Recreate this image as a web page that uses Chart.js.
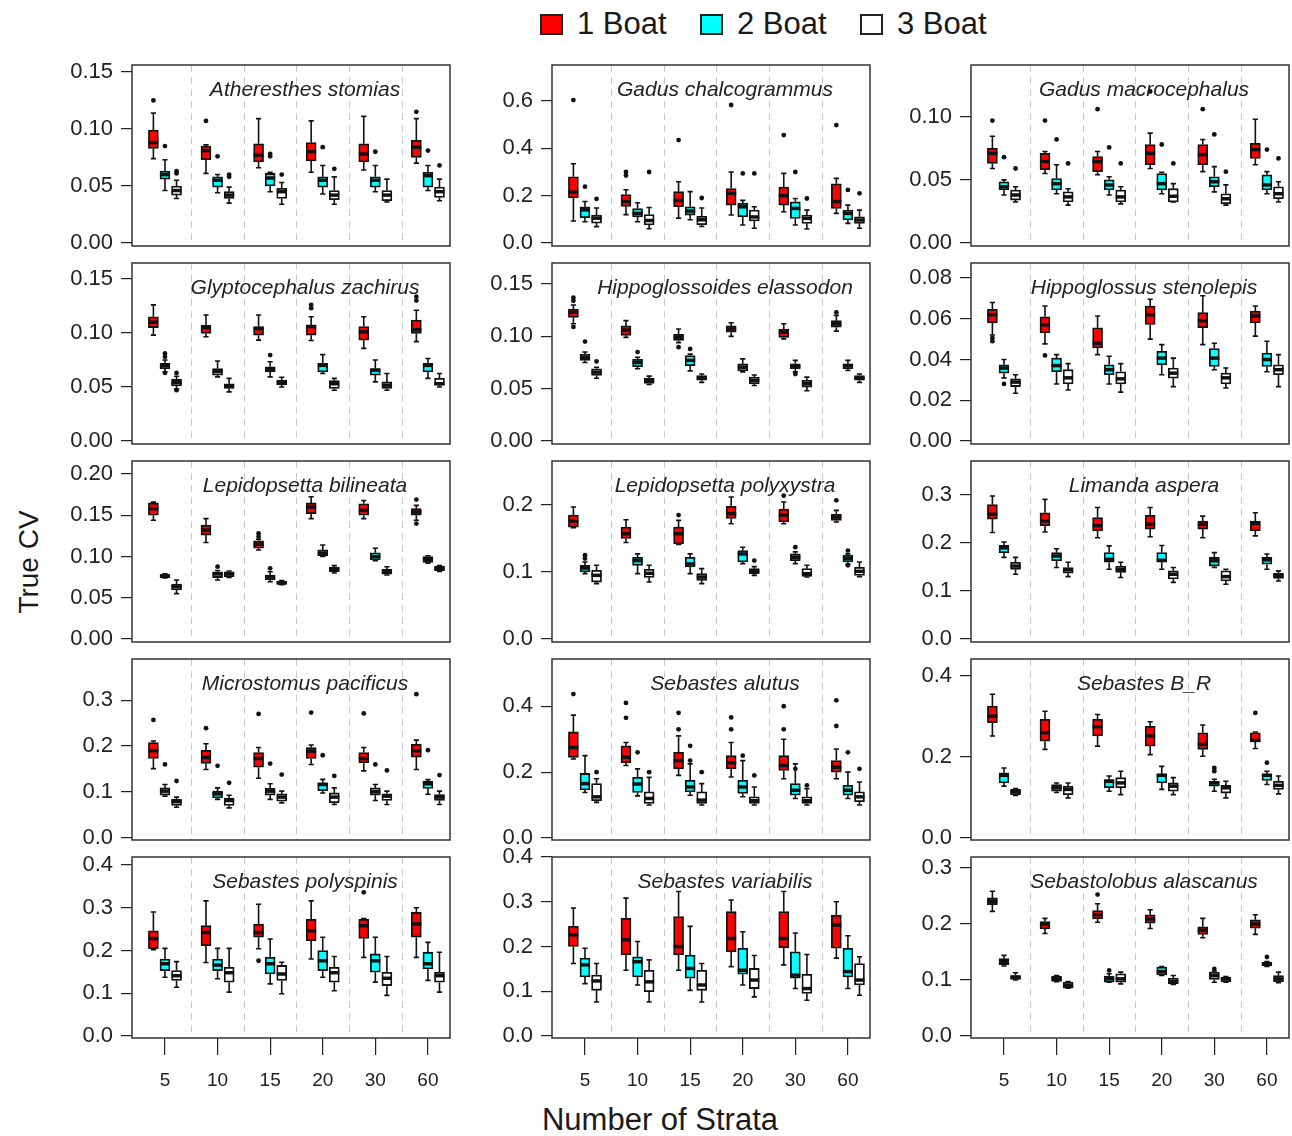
<!DOCTYPE html>
<html>
<head>
<meta charset="utf-8">
<script src="https://cdn.jsdelivr.net/npm/chart.js@4.4.1/dist/chart.umd.min.js"></script>
<style>
  body { margin:0; background:#fff; width:1292px; height:1136px; position:relative; overflow:hidden;
         font-family:"Liberation Sans", Arial, sans-serif; color:#1a1a1a; }
  canvas { position:absolute; }
  .sw { position:absolute; top:14px; width:19px; height:17px; border:2px solid #222; }
  .lk { position:absolute; top:6px; font-size:31px; line-height:36px; }
  #ytitle { position:absolute; left:29px; top:562px; font-size:28px; white-space:nowrap;
            transform:translate(-50%,-50%) rotate(-90deg); }
  #xtitle { position:absolute; left:660px; top:1120px; font-size:31px; white-space:nowrap;
            transform:translate(-50%,-50%); }
</style>
</head>
<body>
<div id="legend"></div>
<div id="ytitle">True CV</div>
<div id="xtitle">Number of Strata</div>
<script>
const strataLabels = ["5", "10", "15", "20", "30", "60"];
const boatLabels = ["1 Boat", "2 Boat", "3 Boat"];
const boatColors = ["#ff0000", "#00ffff", "#ffffff"];

const speciesNames = [
  "Atheresthes stomias", "Gadus chalcogrammus", "Gadus macrocephalus",
  "Glyptocephalus zachirus", "Hippoglossoides elassodon", "Hippoglossus stenolepis",
  "Lepidopsetta bilineata", "Lepidopsetta polyxystra", "Limanda aspera",
  "Microstomus pacificus", "Sebastes alutus", "Sebastes B_R",
  "Sebastes polyspinis", "Sebastes variabilis", "Sebastolobus alascanus"
];

// y axis limits and ticks per panel
const yMins = [-0.0026, -0.0127, -0.0024, -0.0028, -0.0029, -0.0015, -0.0036, -0.0045, -0.0063, -0.0044, -0.0061, -0.005, -0.0047, -0.0045, -0.0036];
const yMaxs = [0.156, 0.752, 0.141, 0.1648, 0.1701, 0.0874, 0.2158, 0.2657, 0.371, 0.3895, 0.5435, 0.4422, 0.4187, 0.4, 0.3196];
const yTickSets = [
  [0, 0.05, 0.10, 0.15], [0, 0.2, 0.4, 0.6], [0, 0.05, 0.10],
  [0, 0.05, 0.10, 0.15], [0, 0.05, 0.10, 0.15], [0, 0.02, 0.04, 0.06, 0.08],
  [0, 0.05, 0.10, 0.15, 0.20], [0, 0.1, 0.2], [0, 0.1, 0.2, 0.3],
  [0, 0.1, 0.2, 0.3], [0, 0.2, 0.4], [0, 0.2, 0.4],
  [0, 0.1, 0.2, 0.3, 0.4], [0, 0.1, 0.2, 0.3, 0.4], [0, 0.1, 0.2, 0.3]
];
const yDecimals = [2, 1, 2, 2, 2, 2, 2, 1, 1, 1, 1, 1, 1, 1, 1];

// each boat: six boxes (strata 5..60) as [lower whisker, q1, median, q3, upper whisker]
const atheresthesStomias = [
  [[0.074,0.083,0.088,0.099,0.114],[0.061,0.073,0.081,0.085,0.086],[0.066,0.071,0.077,0.087,0.109],[0.062,0.072,0.080,0.088,0.107],[0.064,0.071,0.078,0.087,0.111],[0.070,0.075,0.084,0.090,0.109]],
  [[0.046,0.056,0.060,0.063,0.073],[0.044,0.049,0.055,0.058,0.060],[0.045,0.050,0.057,0.061,0.062],[0.043,0.049,0.055,0.058,0.068],[0.045,0.049,0.055,0.058,0.068],[0.046,0.049,0.059,0.062,0.068]],
  [[0.039,0.042,0.046,0.050,0.055],[0.035,0.039,0.042,0.045,0.049],[0.034,0.039,0.045,0.048,0.053],[0.034,0.038,0.042,0.046,0.058],[0.036,0.037,0.042,0.046,0.056],[0.037,0.040,0.045,0.049,0.056]]
];
const gadusChalcogrammus = [
  [[0.093,0.19,0.215,0.28,0.335],[0.12,0.155,0.175,0.205,0.225],[0.105,0.153,0.18,0.217,0.259],[0.118,0.16,0.21,0.23,0.30],[0.132,0.16,0.20,0.236,0.294],[0.125,0.146,0.175,0.25,0.273]],
  [[0.09,0.107,0.14,0.153,0.175],[0.09,0.11,0.125,0.145,0.17],[0.098,0.118,0.135,0.153,0.217],[0.076,0.111,0.153,0.168,0.18],[0.076,0.104,0.146,0.174,0.188],[0.083,0.097,0.125,0.139,0.16]],
  [[0.069,0.084,0.105,0.118,0.148],[0.06,0.076,0.095,0.12,0.15],[0.07,0.077,0.098,0.113,0.148],[0.062,0.093,0.11,0.139,0.153],[0.059,0.083,0.104,0.118,0.139],[0.062,0.083,0.097,0.111,0.139]]
];
const gadusMacrocephalus = [
  [[0.059,0.063,0.071,0.075,0.0845],[0.055,0.058,0.0645,0.071,0.0725],[0.054,0.0565,0.0645,0.0685,0.0725],[0.059,0.062,0.071,0.078,0.087],[0.0565,0.062,0.070,0.078,0.082],[0.062,0.067,0.074,0.079,0.098]],
  [[0.038,0.042,0.0445,0.0485,0.050],[0.039,0.042,0.047,0.051,0.062],[0.038,0.042,0.046,0.050,0.0525],[0.039,0.042,0.047,0.055,0.056],[0.0405,0.0445,0.0485,0.0525,0.0605],[0.039,0.042,0.046,0.054,0.0565]],
  [[0.0325,0.034,0.038,0.042,0.0445],[0.030,0.0325,0.0365,0.0405,0.043],[0.031,0.0325,0.0365,0.042,0.0445],[0.0325,0.0325,0.037,0.043,0.047],[0.030,0.031,0.035,0.039,0.046],[0.0325,0.035,0.039,0.0445,0.0485]]
];
const glyptocephalusZachirus = [
  [[0.098,0.105,0.110,0.115,0.126],[0.0965,0.0996,0.105,0.107,0.1166],[0.0934,0.098,0.104,0.106,0.1166],[0.093,0.098,0.106,0.107,0.115],[0.0857,0.0934,0.101,0.106,0.115],[0.092,0.0996,0.103,0.112,0.121]],
  [[0.064,0.067,0.070,0.072,0.075],[0.0594,0.061,0.0646,0.067,0.074],[0.0594,0.064,0.0665,0.0687,0.0733],[0.0625,0.064,0.070,0.0718,0.080],[0.0547,0.061,0.0655,0.067,0.075],[0.058,0.064,0.070,0.0718,0.0764]],
  [[0.048,0.051,0.054,0.057,0.060],[0.0455,0.0486,0.051,0.053,0.058],[0.050,0.052,0.054,0.0563,0.059],[0.047,0.0486,0.053,0.056,0.058],[0.047,0.0486,0.0517,0.0547,0.0625],[0.050,0.0517,0.053,0.058,0.0625]]
];
const hippoglossoidesElassodon = [
  [[0.112,0.118,0.123,0.126,0.130],[0.099,0.101,0.106,0.110,0.115],[0.094,0.096,0.099,0.102,0.107],[0.100,0.104,0.107,0.110,0.113],[0.0976,0.099,0.104,0.107,0.112],[0.105,0.1087,0.112,0.115,0.12]],
  [[0.075,0.077,0.080,0.083,0.085],[0.069,0.071,0.075,0.078,0.080],[0.067,0.072,0.077,0.0817,0.083],[0.066,0.067,0.0705,0.0737,0.0785],[0.066,0.069,0.0715,0.0737,0.077],[0.0674,0.069,0.072,0.0737,0.077]],
  [[0.060,0.0626,0.0658,0.069,0.0705],[0.054,0.055,0.058,0.060,0.062],[0.056,0.058,0.060,0.0626,0.064],[0.053,0.0547,0.058,0.061,0.063],[0.048,0.0515,0.0547,0.058,0.061],[0.056,0.058,0.060,0.0626,0.064]]
];
const hippoglossusStenolepis = [
  [[0.052,0.058,0.062,0.0647,0.068],[0.0477,0.053,0.057,0.061,0.0663],[0.0424,0.0457,0.048,0.0556,0.0614],[0.050,0.0572,0.062,0.0663,0.0696],[0.0473,0.0556,0.059,0.063,0.0713],[0.0515,0.058,0.0614,0.0638,0.0663]],
  [[0.031,0.0333,0.0358,0.0374,0.040],[0.028,0.034,0.037,0.0407,0.0424],[0.028,0.0325,0.035,0.0374,0.0416],[0.0325,0.0374,0.0407,0.044,0.0473],[0.035,0.0366,0.0407,0.0454,0.048],[0.034,0.0366,0.040,0.0432,0.049]],
  [[0.0234,0.0267,0.0289,0.0305,0.0325],[0.025,0.028,0.031,0.035,0.038],[0.024,0.028,0.0305,0.034,0.038],[0.0267,0.0308,0.0333,0.0358,0.0407],[0.026,0.028,0.031,0.0333,0.0358],[0.0267,0.0325,0.035,0.0374,0.0424]]
];
const lepidopsettaBilineata = [
  [[0.144,0.150,0.158,0.165,0.166],[0.117,0.126,0.132,0.138,0.146],[0.108,0.110,0.115,0.119,0.121],[0.146,0.152,0.160,0.165,0.1725],[0.146,0.150,0.156,0.164,0.168],[0.144,0.150,0.154,0.158,0.162]],
  [[0.074,0.0745,0.0765,0.078,0.079],[0.0715,0.0745,0.079,0.0816,0.083],[0.0695,0.0715,0.075,0.0776,0.0816],[0.100,0.101,0.104,0.108,0.114],[0.095,0.0958,0.100,0.1046,0.11],[0.092,0.093,0.0966,0.100,0.101]],
  [[0.055,0.0594,0.0634,0.0667,0.0715],[0.0745,0.0755,0.079,0.0816,0.0825],[0.066,0.0665,0.068,0.070,0.071],[0.080,0.0815,0.084,0.087,0.089],[0.0776,0.0785,0.0816,0.0844,0.0877],[0.082,0.0828,0.0857,0.0885,0.089]]
];
const lepidopsettaPolyxystra = [
  [[0.166,0.167,0.176,0.185,0.197],[0.144,0.150,0.157,0.167,0.178],[0.141,0.142,0.157,0.167,0.177],[0.172,0.18,0.187,0.198,0.212],[0.172,0.1746,0.185,0.194,0.2045],[0.1746,0.177,0.182,0.186,0.192]],
  [[0.0975,0.10,0.106,0.11,0.115],[0.0975,0.11,0.117,0.122,0.127],[0.0975,0.1075,0.112,0.122,0.127],[0.1125,0.115,0.127,0.132,0.137],[0.1125,0.117,0.122,0.127,0.13],[0.112,0.115,0.12,0.125,0.127]],
  [[0.0826,0.085,0.095,0.1025,0.11],[0.085,0.092,0.098,0.104,0.11],[0.0826,0.0876,0.0925,0.0975,0.105],[0.095,0.0975,0.101,0.105,0.108],[0.0925,0.0935,0.0975,0.105,0.11],[0.093,0.095,0.101,0.107,0.115]]
];
const limandaAspera = [
  [[0.222,0.25,0.26,0.28,0.298],[0.223,0.236,0.246,0.263,0.291],[0.211,0.225,0.236,0.253,0.274],[0.213,0.229,0.239,0.258,0.274],[0.211,0.229,0.239,0.246,0.256],[0.215,0.225,0.241,0.246,0.263]],
  [[0.17,0.18,0.19,0.195,0.202],[0.149,0.163,0.173,0.18,0.188],[0.1455,0.16,0.166,0.18,0.194],[0.1455,0.16,0.164,0.18,0.195],[0.149,0.152,0.163,0.17,0.18],[0.1455,0.156,0.165,0.17,0.177]],
  [[0.135,0.145,0.152,0.16,0.17],[0.13,0.137,0.144,0.149,0.16],[0.128,0.139,0.1455,0.152,0.16],[0.118,0.125,0.135,0.142,0.149],[0.114,0.121,0.13,0.142,0.1455],[0.121,0.126,0.132,0.137,0.142]]
];
const microstomusPacificus = [
  [[0.151,0.173,0.19,0.2075,0.211],[0.149,0.162,0.175,0.191,0.205],[0.13,0.154,0.173,0.186,0.197],[0.16,0.173,0.189,0.197,0.2025],[0.146,0.164,0.173,0.186,0.197],[0.149,0.176,0.19,0.204,0.213]],
  [[0.091,0.093,0.102,0.109,0.1165],[0.084,0.087,0.096,0.102,0.109],[0.084,0.093,0.102,0.108,0.118],[0.098,0.103,0.1165,0.12,0.1275],[0.0815,0.093,0.1005,0.109,0.1165],[0.095,0.108,0.118,0.124,0.127]],
  [[0.067,0.071,0.079,0.084,0.089],[0.0655,0.071,0.0815,0.087,0.093],[0.0765,0.08,0.089,0.096,0.102],[0.073,0.0765,0.089,0.098,0.109],[0.073,0.0815,0.091,0.096,0.102],[0.073,0.0815,0.089,0.0947,0.102]]
];
const sebastesAlutus = [
  [[0.24,0.245,0.275,0.322,0.373],[0.22,0.228,0.245,0.28,0.29],[0.19,0.21,0.235,0.26,0.31],[0.185,0.21,0.228,0.25,0.29],[0.18,0.205,0.22,0.25,0.30],[0.18,0.2,0.215,0.235,0.27]],
  [[0.138,0.146,0.165,0.196,0.25],[0.128,0.138,0.164,0.184,0.21],[0.13,0.14,0.155,0.175,0.225],[0.125,0.135,0.155,0.175,0.235],[0.12,0.13,0.145,0.165,0.225],[0.12,0.13,0.145,0.16,0.2]],
  [[0.108,0.113,0.125,0.165,0.18],[0.1,0.105,0.12,0.14,0.184],[0.1,0.105,0.115,0.14,0.165],[0.1,0.105,0.113,0.125,0.155],[0.1,0.105,0.113,0.125,0.15],[0.1,0.11,0.125,0.14,0.17]]
];
const sebastesBR = [
  [[0.252,0.285,0.301,0.326,0.355],[0.219,0.239,0.26,0.293,0.313],[0.227,0.252,0.275,0.293,0.305],[0.206,0.227,0.252,0.276,0.287],[0.202,0.219,0.231,0.26,0.279],[0.221,0.238,0.241,0.26,0.262]],
  [[0.128,0.136,0.155,0.161,0.173],[0.1125,0.1155,0.124,0.132,0.136],[0.1155,0.124,0.14,0.144,0.153],[0.12,0.136,0.155,0.158,0.177],[0.1155,0.128,0.136,0.14,0.145],[0.132,0.142,0.155,0.158,0.165]],
  [[0.105,0.107,0.114,0.12,0.122],[0.099,0.107,0.12,0.128,0.136],[0.107,0.124,0.136,0.149,0.165],[0.107,0.1155,0.128,0.136,0.149],[0.099,0.111,0.124,0.13,0.14],[0.109,0.12,0.13,0.14,0.153]]
];
const sebastesPolyspinis = [
  [[0.202,0.204,0.228,0.246,0.29],[0.172,0.211,0.242,0.258,0.316],[0.204,0.231,0.242,0.262,0.308],[0.18,0.223,0.246,0.273,0.316],[0.184,0.228,0.258,0.273,0.275],[0.184,0.231,0.262,0.289,0.30]],
  [[0.1375,0.153,0.169,0.18,0.205],[0.134,0.153,0.166,0.18,0.205],[0.122,0.145,0.169,0.184,0.227],[0.1375,0.153,0.176,0.2,0.231],[0.126,0.149,0.176,0.192,0.231],[0.13,0.157,0.169,0.196,0.219]],
  [[0.114,0.13,0.141,0.153,0.174],[0.1025,0.126,0.148,0.161,0.205],[0.0987,0.13,0.145,0.165,0.1725],[0.106,0.126,0.148,0.161,0.186],[0.095,0.118,0.135,0.149,0.186],[0.1025,0.126,0.141,0.149,0.196]]
];
const sebastesVariabilis = [
  [[0.162,0.2,0.226,0.245,0.286],[0.147,0.181,0.215,0.263,0.308],[0.147,0.181,0.2,0.267,0.323],[0.155,0.188,0.218,0.278,0.304],[0.159,0.197,0.218,0.278,0.323],[0.174,0.196,0.248,0.27,0.30]],
  [[0.117,0.132,0.159,0.174,0.196],[0.114,0.132,0.166,0.177,0.211],[0.102,0.129,0.151,0.181,0.245],[0.114,0.138,0.147,0.196,0.233],[0.106,0.129,0.136,0.188,0.23],[0.106,0.132,0.144,0.196,0.224]],
  [[0.076,0.102,0.123,0.136,0.162],[0.076,0.099,0.121,0.147,0.17],[0.076,0.102,0.114,0.147,0.162],[0.0875,0.106,0.125,0.151,0.18],[0.08,0.095,0.106,0.138,0.182],[0.091,0.114,0.125,0.162,0.177]]
];
const sebastolobusAlascanus = [
  [[0.2225,0.2345,0.2405,0.2465,0.2585],[0.183,0.191,0.2,0.2045,0.21],[0.203,0.209,0.2165,0.224,0.236],[0.192,0.2015,0.209,0.2165,0.2255],[0.1755,0.1815,0.189,0.195,0.21],[0.1815,0.1925,0.2,0.2075,0.2165]],
  [[0.125,0.1275,0.1335,0.138,0.144],[0.097,0.0974,0.102,0.107,0.108],[0.096,0.096,0.102,0.107,0.111],[0.108,0.109,0.115,0.123,0.124],[0.096,0.101,0.108,0.114,0.116],[0.124,0.125,0.129,0.132,0.133]],
  [[0.100,0.101,0.105,0.108,0.113],[0.0854,0.0854,0.09,0.096,0.097],[0.093,0.096,0.102,0.111,0.114],[0.092,0.093,0.097,0.103,0.108],[0.096,0.097,0.102,0.105,0.106],[0.095,0.097,0.102,0.108,0.114]]
];

// outliers as [stratum index, boat index, value]
const atheresthesStomiasOut = [[0,0,0.125],[0,1,0.085],[0,2,0.063],[0,2,0.061],[1,0,0.107],[1,1,0.076],[1,2,0.060],[1,2,0.058],[2,1,0.078],[2,1,0.076],[2,2,0.060],[3,1,0.084],[3,2,0.065],[4,1,0.080],[5,0,0.115],[5,1,0.081],[5,2,0.068]];
const gadusChalcogrammusOut = [[0,0,0.604],[0,1,0.238],[0,2,0.186],[1,0,0.30],[1,0,0.285],[1,2,0.30],[2,0,0.435],[2,2,0.19],[3,0,0.583],[3,1,0.294],[3,2,0.294],[4,0,0.456],[4,1,0.30],[4,2,0.188],[5,0,0.498],[5,1,0.224],[5,2,0.21]];
const gadusMacrocephalusOut = [[0,0,0.097],[0,1,0.068],[0,2,0.059],[1,0,0.097],[1,1,0.082],[1,2,0.063],[2,0,0.106],[2,1,0.0757],[2,2,0.063],[3,0,0.12],[3,1,0.078],[3,2,0.063],[4,0,0.106],[4,1,0.086],[4,2,0.0565],[5,1,0.074],[5,2,0.067]];
const glyptocephalusZachirusOut = [[0,1,0.081],[0,1,0.078],[0,1,0.063],[0,2,0.063],[0,2,0.047],[2,1,0.0795],[3,0,0.126],[3,0,0.123],[5,0,0.1336],[5,0,0.130]];
const hippoglossoidesElassodonOut = [[0,0,0.137],[0,0,0.134],[0,0,0.109],[0,1,0.095],[0,2,0.076],[1,1,0.085],[2,0,0.0896],[2,1,0.088],[4,1,0.064],[5,0,0.123]];
const hippoglossusStenolepisOut = [[0,0,0.0506],[0,0,0.049],[0,1,0.028],[1,0,0.042]];
const lepidopsettaBilineataOut = [[1,1,0.0877],[2,0,0.128],[2,0,0.124],[2,1,0.0857],[5,0,0.169],[5,0,0.140]];
const lepidopsettaPolyxystraOut = [[0,1,0.125],[0,1,0.12],[2,0,0.185],[3,2,0.117],[4,0,0.214],[4,1,0.137],[5,0,0.207],[5,1,0.132],[5,1,0.11]];
const limandaAsperaOut = [];
const microstomusPacificusOut = [[0,0,0.257],[0,1,0.16],[0,2,0.124],[1,0,0.239],[1,1,0.157],[1,2,0.12],[2,0,0.27],[2,1,0.162],[2,2,0.138],[3,0,0.273],[3,1,0.18],[3,2,0.135],[4,0,0.271],[4,1,0.16],[4,2,0.147],[5,0,0.313],[5,1,0.191],[5,2,0.137]];
const sebastesAlutusOut = [[0,0,0.437],[0,2,0.2],[1,0,0.41],[1,0,0.365],[1,1,0.26],[1,2,0.2],[2,0,0.38],[2,0,0.33],[2,1,0.28],[2,1,0.235],[2,2,0.2],[3,0,0.366],[3,0,0.33],[3,1,0.25],[3,2,0.19],[4,0,0.40],[4,0,0.33],[4,1,0.21],[4,2,0.16],[5,0,0.418],[5,0,0.34],[5,1,0.26],[5,2,0.21]];
const sebastesBROut = [[4,1,0.173],[4,1,0.165],[5,0,0.309],[5,1,0.186]];
const sebastesPolyspinisOut = [[2,0,0.176],[4,0,0.336]];
const sebastesVariabilisOut = [];
const sebastolobusAlascanusOut = [[2,0,0.2525],[2,1,0.117],[4,1,0.12],[5,1,0.141]];

const panelBoxes = [atheresthesStomias, gadusChalcogrammus, gadusMacrocephalus, glyptocephalusZachirus,
  hippoglossoidesElassodon, hippoglossusStenolepis, lepidopsettaBilineata, lepidopsettaPolyxystra,
  limandaAspera, microstomusPacificus, sebastesAlutus, sebastesBR, sebastesPolyspinis,
  sebastesVariabilis, sebastolobusAlascanus];
const panelOutliers = [atheresthesStomiasOut, gadusChalcogrammusOut, gadusMacrocephalusOut,
  glyptocephalusZachirusOut, hippoglossoidesElassodonOut, hippoglossusStenolepisOut,
  lepidopsettaBilineataOut, lepidopsettaPolyxystraOut, limandaAsperaOut, microstomusPacificusOut,
  sebastesAlutusOut, sebastesBROut, sebastesPolyspinisOut, sebastesVariabilisOut, sebastolobusAlascanusOut];

// layout
const colLeft = [132, 552, 971], rowTop = [65, 263, 461, 659, 857];
const plotW = 318, plotH = 181, axisW = 72, padTop = 12, pad = 4, xAxisH = 60;
const boatOffset = [-0.22, 0, 0.22];
const FONT = '"Liberation Sans", Arial, sans-serif';

// legend
const legend = document.getElementById("legend");
[540, 700, 860].forEach((x, b) => {
  legend.insertAdjacentHTML("beforeend",
    `<div class="sw" style="left:${x}px;background:${boatColors[b]}"></div>` +
    `<div class="lk" style="left:${x + 37}px">${boatLabels[b]}</div>`);
});

const boxExtras = {
  id: "boxExtras",
  beforeDatasetsDraw(chart, args, opts) {
    const { ctx, chartArea: a, scales: { x, y } } = chart;
    ctx.save();
    ctx.strokeStyle = "#c8c8c8";
    ctx.lineWidth = 1;
    ctx.setLineDash([7, 5]);
    for (let k = 1; k < strataLabels.length; k++) {
      const px = Math.round(x.getPixelForValue(k + 0.5)) + 0.5;
      ctx.beginPath(); ctx.moveTo(px, a.top); ctx.lineTo(px, a.bottom); ctx.stroke();
    }
    ctx.setLineDash([]);
    ctx.strokeStyle = "#111";
    ctx.lineWidth = 1.6;
    opts.boxes.forEach((boat, b) => boat.forEach((s, g) => {
      const cx = x.getPixelForValue(g + 1 + boatOffset[b]);
      const [lo, q1, , q3, hi] = s.map(v => y.getPixelForValue(v));
      ctx.beginPath();
      ctx.moveTo(cx, q3); ctx.lineTo(cx, hi);
      ctx.moveTo(cx, q1); ctx.lineTo(cx, lo);
      ctx.moveTo(cx - 2.6, hi); ctx.lineTo(cx + 2.6, hi);
      ctx.moveTo(cx - 2.6, lo); ctx.lineTo(cx + 2.6, lo);
      ctx.stroke();
    }));
    ctx.restore();
  },
  afterDatasetsDraw(chart, args, opts) {
    const { ctx, chartArea: a, scales: { x, y } } = chart;
    ctx.save();
    ctx.strokeStyle = "#111";
    ctx.lineWidth = 3.5;
    opts.boxes.forEach((boat, b) => boat.forEach((s, g) => {
      const cx = x.getPixelForValue(g + 1 + boatOffset[b]);
      const py = y.getPixelForValue(s[2]);
      ctx.beginPath(); ctx.moveTo(cx - 5, py); ctx.lineTo(cx + 5, py); ctx.stroke();
    }));
    ctx.lineWidth = 1.5;
    ctx.strokeStyle = "#333";
    ctx.strokeRect(a.left, a.top, a.right - a.left, a.bottom - a.top);
    ctx.fillStyle = "#222";
    ctx.font = `italic 21px ${FONT}`;
    ctx.textAlign = "center";
    ctx.textBaseline = "middle";
    ctx.fillText(opts.title, (a.left + a.right) / 2 + 14, a.top + 25);
    ctx.restore();
  }
};

speciesNames.forEach((name, p) => {
  const r = Math.floor(p / 3), c = p % 3, bottom = r === rowTop.length - 1;
  const w = axisW + plotW + pad, h = padTop + plotH + (bottom ? xAxisH : pad);
  const cv = document.createElement("canvas");
  cv.width = w; cv.height = h;
  cv.style.left = (colLeft[c] - axisW) + "px";
  cv.style.top = (rowTop[r] - padTop) + "px";
  cv.style.width = w + "px"; cv.style.height = h + "px";
  document.body.appendChild(cv);

  const boxes = panelBoxes[p];
  const datasets = boxes.map((boat, b) => ({
    type: "bar",
    data: boat.map((s, g) => ({ x: g + 1 + boatOffset[b], y: [s[1], s[3]] })),
    backgroundColor: boatColors[b],
    borderColor: "#111",
    borderWidth: 1.8,
    borderSkipped: false,
    barThickness: 10,
    grouped: false,
  }));
  datasets.push({
    type: "scatter",
    data: panelOutliers[p].map(o => ({ x: o[0] + 1 + boatOffset[o[1]], y: o[2] })),
    pointRadius: 2.4,
    pointBackgroundColor: "#111",
    pointBorderWidth: 0,
  });

  new Chart(cv, {
    type: "bar",
    data: { datasets },
    options: {
      responsive: false,
      maintainAspectRatio: false,
      animation: false,
      events: [],
      layout: { padding: { top: padTop, right: pad, bottom: bottom ? 0 : pad, left: 0 } },
      plugins: {
        legend: { display: false },
        tooltip: { enabled: false },
        boxExtras: { boxes, title: name },
      },
      scales: {
        x: {
          type: "linear", min: 0.373, max: 6.42, display: bottom, offset: false,
          afterBuildTicks: s => { s.ticks = strataLabels.map((_, i) => ({ value: i + 1 })); },
          ticks: {
            callback: v => strataLabels[Math.round(v) - 1] ?? "",
            font: { size: 19, family: FONT }, color: "#222", padding: 14,
            maxRotation: 0, autoSkip: false,
          },
          grid: { drawOnChartArea: false, offset: false, tickLength: 17, color: "#222", lineWidth: 1.2 },
          border: { display: false },
          afterFit: s => { s.height = bottom ? xAxisH : 0; s.paddingLeft = 0; s.paddingRight = 0; },
        },
        y: {
          min: yMins[p], max: yMaxs[p],
          afterBuildTicks: s => { s.ticks = yTickSets[p].map(v => ({ value: v })); },
          ticks: {
            callback: v => v.toFixed(yDecimals[p]),
            font: { size: 22, family: FONT }, color: "#222", padding: 8,
          },
          grid: { drawOnChartArea: false, tickLength: 11, color: "#222", lineWidth: 1.2 },
          border: { display: false },
          afterFit: s => { s.width = axisW; s.paddingTop = 0; s.paddingBottom = 0; },
        },
      },
    },
    plugins: [boxExtras],
  });
});
</script>
</body>
</html>
